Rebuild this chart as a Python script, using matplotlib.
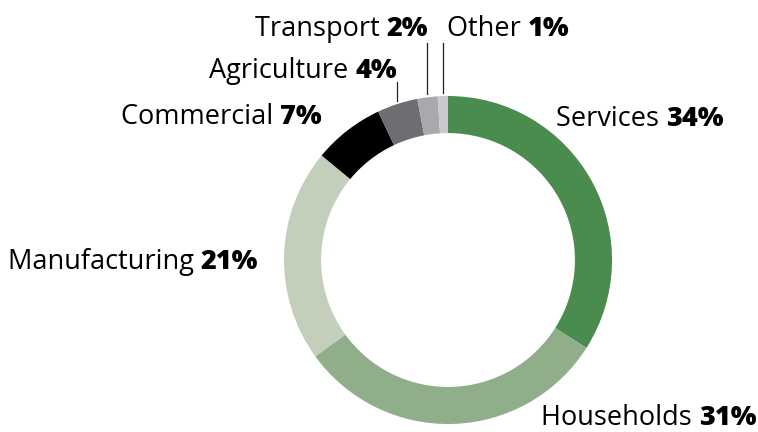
import numpy as np
import matplotlib
matplotlib.use('Agg')
import matplotlib.pyplot as plt

# dados do grafico
sectors = ['Services', 'Households', 'Manufacturing', 'Commercial',
           'Agriculture', 'Transport', 'Other']
shares = [34, 31, 21, 7, 4, 2, 1]
colors = ['#4a8b4e', '#8fae89', '#c3cfbb', '#000000',
          '#6d6e71', '#a7a9ac', '#c9cacc']

plt.rcParams['font.family'] = ['Open Sans', 'DejaVu Sans']
FS = 19.5

fig = plt.figure(figsize=(7.58, 4.32), dpi=100)
ax = fig.add_axes([0, 0, 1, 1])

wedges, _ = ax.pie(shares, colors=colors, startangle=90, counterclock=False,
                   radius=1, wedgeprops=dict(width=0.226, linewidth=0))

# raio = 164 px, centro em (448, 260) px
scale = 164.0
cx, cy = 448.0, 260.0
ax.set_xlim(-cx / scale, (758 - cx) / scale)
ax.set_ylim(-(432 - cy) / scale, cy / scale)
ax.set_aspect('equal')
ax.axis('off')


def px(x, y):
    # converte posicao em pixels da imagem para coordenadas dos dados
    return (x - cx) / scale, (cy - y) / scale


renderer = fig.canvas.get_renderer()


def label(name, pct, x, y, ha):
    xd, yd = px(x, y)
    if ha == 'left':
        t1 = ax.text(xd, yd, name + ' ', ha='left', va='baseline', fontsize=FS)
        w = t1.get_window_extent(renderer).width
        ax.annotate(pct, (xd, yd), xytext=(w, 0), textcoords='offset pixels',
                    ha='left', va='baseline', fontsize=FS, fontweight='heavy')
    else:
        t2 = ax.text(xd, yd, pct, ha='right', va='baseline', fontsize=FS,
                     fontweight='heavy')
        w = t2.get_window_extent(renderer).width
        ax.annotate(name + ' ', (xd, yd), xytext=(-w, 0),
                    textcoords='offset pixels', ha='right', va='baseline',
                    fontsize=FS)


# angulo medio de cada fatia (sentido horario a partir do topo)
cum = np.cumsum([0] + shares)
total = cum[-1]
mid = [(cum[i] + cum[i + 1]) / 2 / total * 2 * np.pi for i in range(len(shares))]

label('Services', '34%', 556, 126, 'left')
label('Households', '31%', 541, 425, 'left')
label('Manufacturing', '21%', 258, 269, 'right')
label('Commercial', '7%', 322, 124, 'right')

# linhas guia das fatias pequenas
tops = {'Agriculture': 82, 'Transport': 43, 'Other': 43}
for i, s in enumerate(sectors):
    if s in tops:
        lx = np.sin(mid[i]) * 1.0
        ly = np.cos(mid[i]) * 1.02
        ax.plot([lx, lx], [ly, px(0, tops[s])[1]], color='#222222', lw=0.9)

xa = np.sin(mid[4]) * scale + cx
xt = np.sin(mid[5]) * scale + cx
xo = np.sin(mid[6]) * scale + cx
label('Agriculture', '4%', xa, 78, 'right')
label('Transport', '2%', xt + 1, 36, 'right')
label('Other', '1%', xo + 4, 36, 'left')

fig.savefig('out.png', dpi=100)
